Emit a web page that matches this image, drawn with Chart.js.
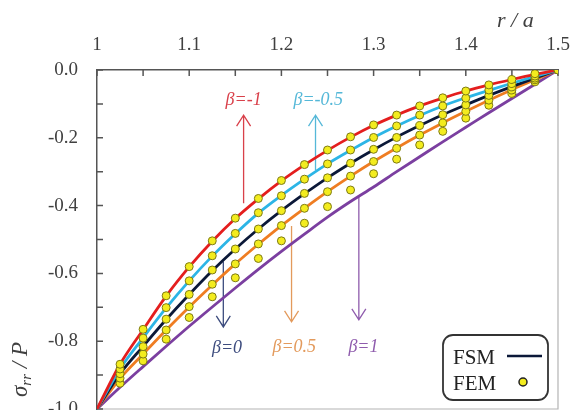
<!DOCTYPE html>
<html><head><meta charset="utf-8">
<script src="https://cdn.jsdelivr.net/npm/chart.js@4.4.1/dist/chart.umd.min.js"></script>
<style>
html,body{margin:0;padding:0;background:#fff;overflow:hidden;width:570px;height:410px}
#wrap{position:absolute;left:0;top:0;width:570px;height:430px}
</style></head>
<body><div id="wrap"><canvas id="c" width="570" height="430"></canvas></div>
<script>
// ---- data (r/a and sigma_rr/P) ----
const rFsm = [1, 1.025, 1.05, 1.075, 1.1, 1.125, 1.15, 1.175, 1.2, 1.225, 1.25, 1.275, 1.3, 1.325, 1.35, 1.375, 1.4, 1.425, 1.45, 1.475, 1.5];
const rFem = [1.025, 1.05, 1.075, 1.1, 1.125, 1.15, 1.175, 1.2, 1.225, 1.25, 1.275, 1.3, 1.325, 1.35, 1.375, 1.4, 1.425, 1.45, 1.475, 1.5];

const fsmBetaM1  = [-1, -0.868, -0.766, -0.667, -0.581, -0.505, -0.438, -0.380, -0.327, -0.280, -0.237, -0.198, -0.163, -0.133, -0.106, -0.083, -0.062, -0.044, -0.028, -0.013, 0];
const fsmBetaM05 = [-1, -0.882, -0.790, -0.702, -0.622, -0.549, -0.483, -0.422, -0.370, -0.322, -0.277, -0.237, -0.199, -0.165, -0.134, -0.106, -0.082, -0.060, -0.039, -0.019, 0];
const fsmBeta0   = [-1, -0.896, -0.815, -0.736, -0.662, -0.592, -0.528, -0.469, -0.415, -0.365, -0.318, -0.275, -0.235, -0.198, -0.164, -0.132, -0.103, -0.075, -0.049, -0.024, 0];
const fsmBeta05  = [-1, -0.910, -0.838, -0.767, -0.699, -0.634, -0.572, -0.514, -0.459, -0.408, -0.359, -0.313, -0.270, -0.230, -0.192, -0.156, -0.122, -0.089, -0.058, -0.029, 0];
const fsmBeta1   = [-1, -0.936, -0.875, -0.815, -0.756, -0.699, -0.643, -0.588, -0.535, -0.484, -0.434, -0.388, -0.345, -0.300, -0.256, -0.212, -0.169, -0.126, -0.084, -0.042, 0];

const femBetaM1  = [-0.868, -0.765, -0.666, -0.580, -0.504, -0.437, -0.379, -0.326, -0.279, -0.236, -0.197, -0.162, -0.133, -0.106, -0.082, -0.062, -0.044, -0.028, -0.011, 0];
const femBetaM05 = [-0.882, -0.791, -0.701, -0.622, -0.548, -0.482, -0.421, -0.371, -0.322, -0.277, -0.236, -0.199, -0.165, -0.133, -0.106, -0.083, -0.059, -0.040, -0.018, 0];
const femBeta0   = [-0.896, -0.816, -0.735, -0.662, -0.590, -0.528, -0.469, -0.415, -0.364, -0.318, -0.275, -0.234, -0.199, -0.164, -0.132, -0.103, -0.075, -0.050, -0.024, 0];
const femBeta05  = [-0.909, -0.838, -0.767, -0.698, -0.632, -0.572, -0.513, -0.459, -0.408, -0.359, -0.313, -0.270, -0.231, -0.192, -0.156, -0.122, -0.089, -0.059, -0.029, 0];
const femBeta1   = [-0.924, -0.858, -0.794, -0.730, -0.669, -0.613, -0.556, -0.504, -0.452, -0.403, -0.354, -0.306, -0.263, -0.221, -0.181, -0.142, -0.104, -0.069, -0.035, 0];

const betaLabels = ['β=-1', 'β=-0.5', 'β=0', 'β=0.5', 'β=1'];

// ---- styles ----
const lineColors  = ['#e41e1e', '#2cb5e6', '#0b1838', '#ef7d22', '#7b3fa0'];
const arrowColors = ['#d9404a', '#55b8d8', '#3d4c7e', '#e39a5c', '#8f5cad'];
// annotation arrows in data coordinates
const arrows = [
  {r: 1.159, from: -0.393, to: -0.133, lr: 1.159, lv: -0.089},
  {r: 1.237, from: -0.295, to: -0.133, lr: 1.240, lv: -0.089},
  {r: 1.137, from: -0.565, to: -0.758, lr: 1.141, lv: -0.822},
  {r: 1.211, from: -0.460, to: -0.743, lr: 1.214, lv: -0.819},
  {r: 1.284, from: -0.372, to: -0.737, lr: 1.289, lv: -0.819}
];

const fsmSets = [fsmBetaM1, fsmBetaM05, fsmBeta0, fsmBeta05, fsmBeta1];
const femSets = [femBetaM1, femBetaM05, femBeta0, femBeta05, femBeta1];

const datasets = [];
fsmSets.forEach((vals, i) => {
  datasets.push({
    label: 'FSM ' + betaLabels[i],
    data: rFsm.map((r, k) => ({x: r, y: vals[k]})),
    showLine: true, borderColor: lineColors[i], backgroundColor: lineColors[i],
    borderWidth: 2.8, pointRadius: 0, cubicInterpolationMode: 'monotone', order: 2
  });
});
femSets.forEach((vals, i) => {
  datasets.push({
    label: 'FEM ' + betaLabels[i],
    data: rFem.map((r, k) => ({x: r, y: vals[k]})),
    showLine: false, pointRadius: 4, pointBorderWidth: 1,
    pointBackgroundColor: '#f3ec1e', pointBorderColor: '#7d7a14', order: 1
  });
});

const FONT = '"Liberation Serif", "Times New Roman", serif';

const deco = {
  id: 'deco',
  beforeDatasetsDraw(chart) {
    const {ctx, chartArea: a, scales: {x, y}} = chart;
    ctx.save();
    // right & bottom frame
    ctx.strokeStyle = '#b4b4b4'; ctx.lineWidth = 1.2;
    ctx.beginPath(); ctx.moveTo(a.right, a.top); ctx.lineTo(a.right, a.bottom); ctx.lineTo(a.left, a.bottom); ctx.stroke();
    // inward ticks
    ctx.strokeStyle = '#555'; ctx.lineWidth = 1.5;
    ctx.beginPath();
    x.ticks.forEach(t => { const px = x.getPixelForValue(t.value); ctx.moveTo(px, a.top); ctx.lineTo(px, a.top + 6); });
    y.ticks.forEach(t => { const py = y.getPixelForValue(t.value); ctx.moveTo(a.left, py); ctx.lineTo(a.left + 6, py); });
    ctx.stroke();
    // arrows and beta labels
    arrows.forEach((ar, i) => {
      const px = x.getPixelForValue(ar.r), y0 = y.getPixelForValue(ar.from), y1 = y.getPixelForValue(ar.to);
      const dir = y1 < y0 ? 1 : -1;
      ctx.strokeStyle = arrowColors[i]; ctx.lineWidth = 1.3;
      ctx.beginPath();
      ctx.moveTo(px, y0); ctx.lineTo(px, y1);
      ctx.moveTo(px - 7, y1 + dir * 11); ctx.lineTo(px, y1); ctx.lineTo(px + 7, y1 + dir * 11);
      ctx.stroke();
      ctx.fillStyle = arrowColors[i];
      ctx.font = 'italic 18px ' + FONT; ctx.textAlign = 'center'; ctx.textBaseline = 'middle';
      ctx.fillText(betaLabels[i], x.getPixelForValue(ar.lr), y.getPixelForValue(ar.lv));
    });
    ctx.restore();
  },
  afterDraw(chart) {
    const {ctx} = chart;
    ctx.save();
    // x title
    ctx.fillStyle = '#404040'; ctx.textBaseline = 'alphabetic'; ctx.textAlign = 'left';
    ctx.font = 'italic 22px ' + FONT;
    ctx.fillText('r / a', 497, 27);
    // y title (rotated)
    ctx.translate(27, 397); ctx.rotate(-Math.PI / 2);
    let cx = 0;
    ctx.font = 'italic 23px ' + FONT; ctx.fillText('σ', cx, 0); cx += ctx.measureText('σ').width;
    ctx.font = 'italic 15px ' + FONT; ctx.fillText('rr', cx, 4); cx += ctx.measureText('rr').width;
    ctx.font = 'italic 23px ' + FONT; ctx.fillText(' / P', cx, 0);
    ctx.setTransform(1, 0, 0, 1, 0, 0);
    // legend box
    const bx = 443, by = 335, bw = 105, bh = 65, rad = 10;
    ctx.fillStyle = '#fff'; ctx.strokeStyle = '#333'; ctx.lineWidth = 1.8;
    ctx.beginPath();
    ctx.moveTo(bx + rad, by); ctx.lineTo(bx + bw - rad, by); ctx.arcTo(bx + bw, by, bx + bw, by + rad, rad);
    ctx.lineTo(bx + bw, by + bh - rad); ctx.arcTo(bx + bw, by + bh, bx + bw - rad, by + bh, rad);
    ctx.lineTo(bx + rad, by + bh); ctx.arcTo(bx, by + bh, bx, by + bh - rad, rad);
    ctx.lineTo(bx, by + rad); ctx.arcTo(bx, by, bx + rad, by, rad);
    ctx.closePath(); ctx.fill(); ctx.stroke();
    ctx.fillStyle = '#222'; ctx.font = '21px ' + FONT; ctx.textAlign = 'left'; ctx.textBaseline = 'alphabetic';
    ctx.fillText('FSM', 453, 364);
    ctx.fillText('FEM', 453, 390);
    ctx.strokeStyle = '#0b1838'; ctx.lineWidth = 2.5;
    ctx.beginPath(); ctx.moveTo(507, 356); ctx.lineTo(542, 356); ctx.stroke();
    ctx.fillStyle = '#f3ec1e'; ctx.strokeStyle = '#222'; ctx.lineWidth = 1.5;
    ctx.beginPath(); ctx.arc(523, 382, 4, 0, Math.PI * 2); ctx.fill(); ctx.stroke();
    ctx.restore();
  }
};

new Chart(document.getElementById('c'), {
  type: 'scatter',
  data: {datasets},
  plugins: [deco],
  options: {
    responsive: false, animation: false,
    layout: {padding: {left: 0, top: 0, right: 12, bottom: 21}},
    plugins: {legend: {display: false}, tooltip: {enabled: false}},
    scales: {
      x: {
        type: 'linear', position: 'top', min: 1, max: 1.5,
        afterFit: s => { s.height = 70; s.paddingLeft = 0; s.paddingRight = 0; },
        border: {display: true, color: '#555', width: 1.5},
        grid: {drawOnChartArea: false, drawTicks: false},
        ticks: {
          stepSize: 0.05, autoSkip: false, maxRotation: 0, padding: 14, color: '#404040',
          font: {family: FONT, size: 19},
          callback: v => (Math.round(v * 20) % 2 === 0) ? (Math.abs(v - 1) < 1e-9 ? '1' : v.toFixed(1)) : ''
        }
      },
      y: {
        type: 'linear', min: -1, max: 0,
        afterFit: s => { s.width = 97; s.paddingTop = 0; s.paddingBottom = 0; },
        border: {display: true, color: '#555', width: 1.5},
        grid: {drawOnChartArea: false, drawTicks: false},
        ticks: {
          stepSize: 0.1, autoSkip: false, padding: 19, color: '#404040',
          font: {family: FONT, size: 19},
          callback: v => { const n = Math.round(v * 10); return (n % 2 === 0) ? (n / 10).toFixed(1) : ''; }
        }
      }
    }
  }
});
</script></body></html>
